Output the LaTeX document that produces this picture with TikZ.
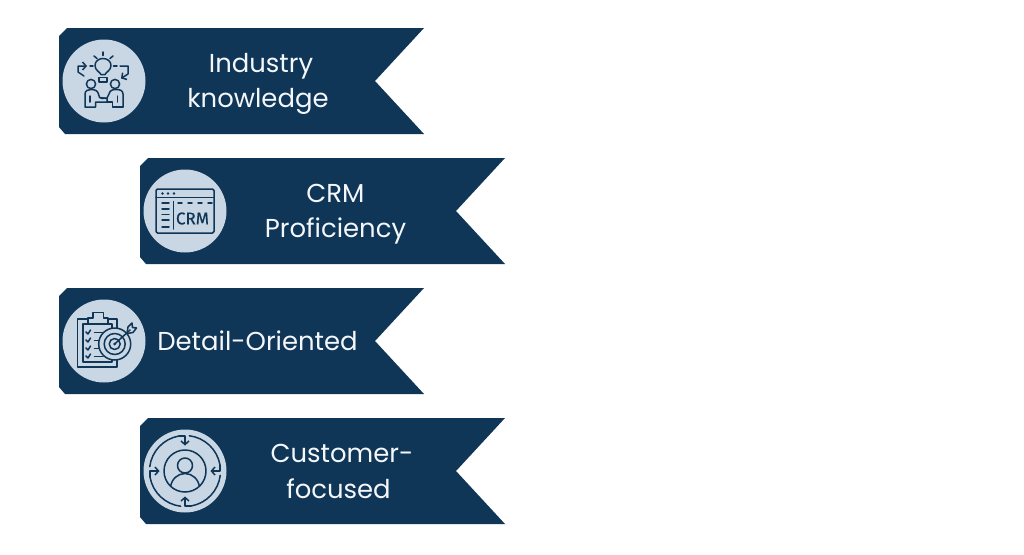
\documentclass[tikz,border=0pt]{standalone}
\usepackage{fontspec}
\setmainfont{Poppins}
\usetikzlibrary{arrows.meta}
\definecolor{navy}{HTML}{0F3557}
\definecolor{pale}{HTML}{C9D6E3}
\definecolor{soft}{HTML}{F4F7FA}
\tikzset{
  ribbonshape/.style={fill=navy,draw=none},
  disc/.style={fill=pale,draw=none},
  label/.style={text=soft,align=center,inner sep=0pt,font=\fontsize{25.9}{35.5}\selectfont},
  ico/.style={draw=navy,line width=1.5pt,line cap=round,line join=round},
  icoarrow/.style={ico,-{Straight Barb[length=3.5pt,width=8pt,line width=1.5pt]}},
}
\newcommand{\ribbonat}[2]{%
  \path[ribbonshape,shift={(#1,#2)}] (0,8) -- (8,0) -- (365,0) -- (316,53) -- (365,106) -- (6,106) -- (0,99) -- cycle;
  \path[disc,shift={(#1,#2)}] (45,53) circle[radius=41.5];
}
\begin{document}
\begin{tikzpicture}[x=1pt,y=-1pt]
\useasboundingbox[fill=white] (0,0) rectangle (1024,554);
\ribbonat{59}{28}
\ribbonat{140}{158}
\ribbonat{59}{288}
\ribbonat{140}{418}
\node[label] (t1) at (258,84) {\hspace*{6pt}Industry\\knowledge};
\node[label] (t2) at (335.5,214) {CRM\\Proficiency};
\node[label] (t3) at (257.5,341) {Detail-Oriented};
\node[label] (t4) at (338.5,471.5) {\hspace*{7pt}Customer-\\focused};
% icon 1
\begin{scope}[shift={(104,81)}]
  \draw[ico] (-3,-6.5) .. controls (-4,-9) and (-9,-10.5) .. (-9,-15.5) .. controls (-9,-20) and (-5,-22.5) .. (-1,-22.5) .. controls (3,-22.5) and (7,-20) .. (7,-15.5) .. controls (7,-10.5) and (2,-9) .. (1,-6.5) -- cycle;
  \draw[ico] (-5,-3.5) rectangle (3,1);
  \draw[ico] (-1,-29) -- (-1,-25.5);
  \draw[ico] (-10,-25) -- (-7,-22.5);
  \draw[ico] (9,-25) -- (6,-22.5);
  \draw[ico] (-14,-15) -- (-11,-15);
  \draw[ico] (9.5,-15) -- (13,-15);
  \draw[icoarrow] (-20,-5) -- (-26,-9) -- (-26,-15) -- (-17,-15);
  \draw[icoarrow] (16,-15) -- (24,-15) -- (24,-7) -- (17,-2.5);
  \draw[ico] (-13,3) circle[radius=4.6];
  \draw[ico] (11,3) circle[radius=4.6];
  \draw[ico] (-19,26) -- (-19,13) .. controls (-19,9.5) and (-16,8.5) .. (-13,8.5) .. controls (-9,8.5) and (-6.5,9.5) .. (-5.5,13) -- (-4.5,16.5) -- (3,17.5) -- (3,21) -- (-8.5,21) -- (-8.5,26) -- cycle;
  \draw[ico] (19,26) -- (19,13) .. controls (19,9.5) and (16,8.5) .. (12,8.5) .. controls (8,8.5) and (6,9.5) .. (5,13) -- (3,17) -- (-3,17.5);
  \draw[ico] (3,21) -- (8.5,21) -- (8.5,26) -- (19,26);
  \draw[ico] (-14,15) -- (-14,21);
  \draw[ico] (13.5,15) -- (13.5,21);
\end{scope}
% icon 2
\begin{scope}[shift={(185,211)}]
  \draw[ico,rounded corners=1.5pt] (-29,-22) rectangle (29,22);
  \draw[ico] (-29,-13.5) -- (29,-13.5);
  \foreach \a in {-22.5,-17,-11}{\fill[navy] (\a,-17.5) circle[radius=1.3];}
  \draw[ico] (-11.5,-9.5) -- (-11.5,18);
  \foreach \b in {-8,-2,3.5,9,16}{\draw[ico] (-23,\b) -- (-16,\b);}
  \foreach \c in {-7,3,13,23}{\draw[ico] (\c,-8) -- (\c+4,-8);}
  \node[inner sep=0pt,text=navy] (crm) at (7.5,7.5) {\fontspec{Fira Sans}[FakeBold=0.5]\fontsize{17}{18}\selectfont CRM};
\end{scope}
% icon 3
\begin{scope}[shift={(104,341)}]
  \draw[ico] (-26.3,-22) rectangle (13,26);
  \draw[ico] (-21,-17) rectangle (8,21);
  \draw[ico,fill=pale] (-16,-17) -- (-16,-23) -- (-11,-23) -- (-11,-28.5) -- (-0.5,-28.5) -- (-0.5,-23) -- (4,-23) -- (4,-17) -- cycle;
  \foreach \d in {-9,-1,7,15}{
    \draw[ico] (-18,\d) -- (-16,\d+2) -- (-13.5,\d-2);
    \draw[ico] (-9.5,\d+.5) -- (-1,\d+.5);
  }
  \draw[ico,fill=pale] (10.7,3) circle[radius=16];
  \draw[ico] (10.7,3) circle[radius=10.5];
  \draw[ico] (10.7,3) circle[radius=5.5];
  \fill[navy] (10.7,3) circle[radius=1.5];
  \draw[ico] (10.7,3) -- (26,-11);
  \draw[ico] (23,-7.5) -- (24,-14) -- (28,-18) -- (28.5,-13.5) -- (32.5,-13) -- (29,-8.5) -- cycle;
\end{scope}
% icon 4
\begin{scope}[shift={(185,471)}]
  \draw[ico] (0,0) circle[radius=21];
  \draw[ico] (0,-5.5) circle[radius=7.5];
  \begin{scope}
    \clip (0,0) circle[radius=21];
    \draw[ico] (-14.5,17) .. controls (-14,8) and (-7,2.5) .. (0,2.5) .. controls (7,2.5) and (14,8) .. (14.5,17);
  \end{scope}
  \foreach \r in {0,90,180,270}{
    \begin{scope}[rotate=\r]
      \draw[ico] (-173:35.5) arc[start angle=-173,end angle=-100,radius=35.5];
      \draw[icoarrow] (-6,-35) -- (0,-35) -- (0,-25.5);
    \end{scope}
  }
\end{scope}
\end{tikzpicture}
\end{document}
